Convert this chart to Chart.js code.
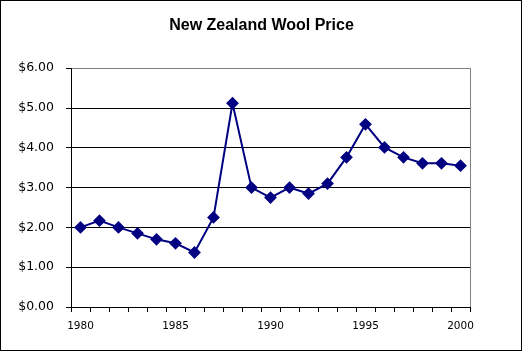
<!DOCTYPE html>
<html>
<head>
<meta charset="utf-8">
<script src="https://cdn.jsdelivr.net/npm/chart.js@4/dist/chart.umd.min.js"></script>
<style>
  html, body { margin: 0; padding: 0; background: #fff; }
  #wrap { width: 523px; height: 352px; position: relative; }
</style>
</head>
<body>
<div id="wrap"><canvas id="woolChart" width="523" height="352"></canvas></div>
<script>
const years = ["1980", "1981", "1982", "1983", "1984", "1985", "1986", "1987", "1988", "1989", "1990",
  "1991", "1992", "1993", "1994", "1995", "1996", "1997", "1998", "1999", "2000"];
const prices = [2.00, 2.17, 2.00, 1.85, 1.70, 1.60, 1.37, 2.25, 5.12, 3.00, 2.75,
  3.00, 2.85, 3.10, 3.76, 4.59, 4.01, 3.76, 3.61, 3.61, 3.55];
const yTicks = [0, 1, 2, 3, 4, 5, 6];

// outer frame + grey right edge of the plot area
const frame = {
  id: "frame",
  afterDraw(chart) {
    const { ctx, chartArea } = chart;
    ctx.save();
    ctx.lineWidth = 1;
    ctx.strokeStyle = "#808080";
    ctx.beginPath();
    ctx.moveTo(Math.round(chartArea.right) + 0.5, chartArea.top);
    ctx.lineTo(Math.round(chartArea.right) + 0.5, chartArea.bottom);
    ctx.stroke();
    ctx.strokeStyle = "#000";
    ctx.strokeRect(0.5, 0.5, 521, 350);
    ctx.restore();
  },
};

new Chart(document.getElementById("woolChart"), {
  type: "line",
  data: {
    labels: years,
    datasets: [
      {
        label: "Price",
        data: prices,
        borderColor: "#000080",
        backgroundColor: "#000080",
        borderWidth: 2,
        pointStyle: "rectRot",
        pointRadius: 5,
        pointBackgroundColor: "#000080",
        pointBorderColor: "#000080",
        tension: 0,
      },
    ],
  },
  options: {
    responsive: false,
    animation: false,
    layout: { padding: 0 },
    plugins: {
      legend: { display: false },
      tooltip: { enabled: false },
      title: {
        display: true,
        text: "New Zealand Wool Price",
        color: "#000",
        font: { family: "Liberation Sans, Arial", size: 16, weight: "bold" },
        padding: { top: 16, bottom: 33 },
      },
    },
    scales: {
      x: {
        type: "category",
        offset: true,
        afterFit(scale) { scale.height = 45; },
        grid: {
          offset: true,
          drawOnChartArea: false,
          drawTicks: true,
          tickLength: 5,
          color: "#000",
        },
        border: { color: "#000", width: 1 },
        ticks: {
          autoSkip: false,
          maxRotation: 0,
          padding: 8,
          color: "#000",
          font: { family: "DejaVu Sans", size: 10.5 },
          callback(value, index) {
            return index % 5 === 0 ? years[index] : "";
          },
        },
      },
      y: {
        min: yTicks[0],
        max: yTicks[yTicks.length - 1],
        afterFit(scale) { scale.width = 71; },
        afterBuildTicks(scale) { scale.ticks = yTicks.map((v) => ({ value: v })); },
        grid: {
          color: (c) => (c.tick && c.tick.value === 6 ? "#808080" : "#000"),
          tickColor: "#000",
          tickLength: 5,
          lineWidth: 1,
        },
        border: { color: "#000", width: 1 },
        ticks: {
          padding: 12,
          color: "#000",
          font: { family: "DejaVu Sans", size: 12.5 },
          callback: (v) => "$" + Number(v).toFixed(2),
        },
      },
      // empty right-hand axis, only reserves the blank strip right of the plot
      yRight: {
        position: "right",
        display: true,
        afterFit(scale) { scale.width = 53; },
        grid: { display: false },
        border: { display: false },
        ticks: { display: false },
      },
    },
  },
  plugins: [frame],
});
</script>
</body>
</html>
